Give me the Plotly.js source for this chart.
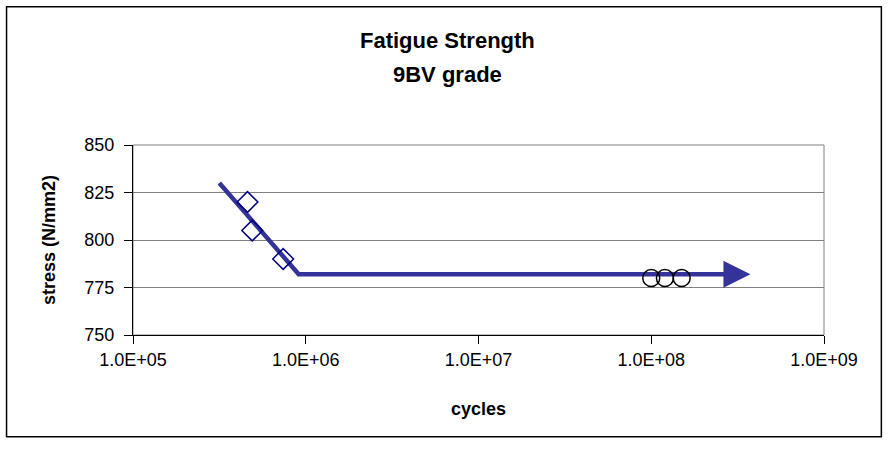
<!DOCTYPE html>
<html>
<head>
<meta charset="utf-8">
<script src="https://cdn.plot.ly/plotly-3.0.1.min.js"></script>
<style>html,body{margin:0;padding:0;background:#fff;}#chart{width:890px;height:451px;}</style>
</head>
<body>
<div id="chart"></div>
<script>
// Test points (diamonds)
const testCycles = [4.6e5, 4.9e5, 7.4e5];
const testStress = [820, 805, 790];
// Run-outs (circles)
const runoutCycles = [1.0e8, 1.2e8, 1.5e8];
const runoutStress = [780, 780, 780];
// S-N curve line
const curveCycles = [3.16e5, 9.1e5, 2.7e8];
const curveStress = [830, 782, 782];
// Arrow tip
const arrowTipCycles = 3.75e8;
const xTickVals = [1e5, 1e6, 1e7, 1e8, 1e9];
const xTickText = ["1.0E+05", "1.0E+06", "1.0E+07", "1.0E+08", "1.0E+09"];
const titleLines = ["Fatigue Strength", "9BV grade"];

const navy = '#333399';
const font = 'Liberation Sans, Arial, sans-serif';

const traces = [
  {x: curveCycles, y: curveStress, mode: 'lines', type: 'scatter',
   line: {color: navy, width: 4.5}, hoverinfo: 'skip'},
  {x: testCycles, y: testStress, mode: 'markers', type: 'scatter',
   marker: {symbol: 'diamond-open', size: 16, color: '#000080', line: {width: 1.5, color: '#000080'}}},
  {x: runoutCycles, y: runoutStress, mode: 'markers', type: 'scatter',
   marker: {symbol: 'circle-open', size: 17, color: '#000000', line: {width: 1.5, color: '#000000'}}}
];

const last = curveCycles.length - 1;
const layout = {
  width: 890, height: 451,
  margin: {l: 133, r: 66, t: 145, b: 116},
  paper_bgcolor: '#ffffff', plot_bgcolor: '#ffffff',
  showlegend: false,
  xaxis: {type: 'log', range: [5, 9], tickvals: xTickVals, ticktext: xTickText,
          showgrid: false, zeroline: false, showline: true, linecolor: '#000', linewidth: 1,
          ticks: 'outside', ticklen: 8, tickcolor: '#000', mirror: false,
          tickfont: {family: font, size: 18, color: '#000'},
          title: {text: '<b>cycles</b>', font: {family: font, size: 18, color: '#000'}, standoff: 33}},
  yaxis: {range: [750, 850], dtick: 25, tick0: 750,
          showgrid: true, gridcolor: '#808080', gridwidth: 1, zeroline: false,
          showline: true, linecolor: '#000', linewidth: 1,
          ticks: 'outside', ticklen: 8, tickcolor: '#000', ticklabelstandoff: 6,
          tickfont: {family: font, size: 18, color: '#000'},
          title: {text: '<b>stress (N/mm2)</b>', font: {family: font, size: 18, color: '#000'}, standoff: 24}},
  shapes: [
    {type: 'rect', xref: 'paper', yref: 'paper', x0: 0, x1: 1, y0: 0, y1: 1,
     line: {color: '#808080', width: 1}, layer: 'below'},
    {type: 'rect', xref: 'paper', yref: 'paper', x0: -0.183, x1: 1.083, y0: -0.535, y1: 1.728,
     line: {color: '#000', width: 1.5}}
  ],
  annotations: [
    {x: Math.log10(arrowTipCycles), y: curveStress[last], ax: Math.log10(curveCycles[last]), ay: curveStress[last],
     xref: 'x', yref: 'y', axref: 'x', ayref: 'y', text: '', showarrow: true,
     arrowhead: 2, arrowsize: 1.2, arrowwidth: 4.5, arrowcolor: navy, standoff: 0},
    {xref: 'paper', yref: 'paper', x: 0.455, y: 1.548, xanchor: 'center', yanchor: 'middle', showarrow: false,
     text: '<b>' + titleLines[0] + '</b>', font: {family: font, size: 22, color: '#000'}},
    {xref: 'paper', yref: 'paper', x: 0.455, y: 1.372, xanchor: 'center', yanchor: 'middle', showarrow: false,
     text: '<b>' + titleLines[1] + '</b>', font: {family: font, size: 22, color: '#000'}}
  ]
};

Plotly.newPlot('chart', traces, layout, {staticPlot: true, displayModeBar: false});
</script>
</body>
</html>
